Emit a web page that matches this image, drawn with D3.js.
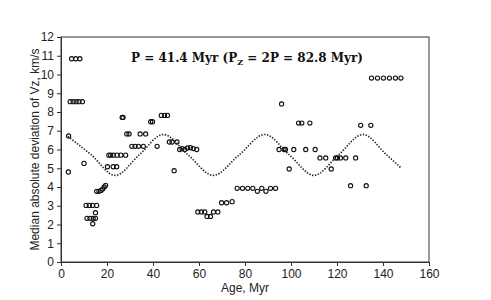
<!DOCTYPE html>
<html><head><meta charset="utf-8">
<script src="https://cdn.jsdelivr.net/npm/d3@7"></script>
<style>body{margin:0;background:#fff}svg{display:block}</style>
</head><body>
<svg id="c" width="491" height="300"></svg>
<script>
// Observed points (age in Myr, median absolute deviation of Vz in km/s)
const ages = [3.2,3.3,4.6,6.4,8.2,4.0,5.3,6.6,7.8,9.3,10.0,
  10.9,12.3,13.7,15.5, 11.3,12.6,14.0,15.0, 13.8, 15.0,
  15.5,16.5,17.4,18.1,18.8,19.4,
  20.8,21.6,22.8,24.4,26.0,28.1, 20.2,22.7,24.2,
  30.8,32.2,33.7,35.8, 28.6,29.6,34.4,36.8, 26.6,27.0, 39.0,39.8, 43.6,45.0,46.3,
  41.8, 47.1,48.3,50.4, 49.2,
  51.6,52.6,53.8,55.0,56.3,57.5,59.0,
  59.5,61.0,62.5,63.5,65.0,66.3,68.2,
  69.8,72.0,74.4,
  76.6,78.9,81.2,83.4,85.4,87.3,89.1,91.1,93.3,
  95.9, 103.3,104.7,108.2,
  94.8,97.0,97.6,101.2,106.4,110.5,
  99.2,117.5,
  112.6,115.1,119.4,120.2,121.5,123.8,128.1,
  125.9,132.7, 130.3,134.7,
  135.0,137.6,140.2,142.8,145.4,147.8];
const mads = [4.8,6.72,10.84,10.84,10.84,8.55,8.55,8.55,8.55,8.55,5.26,
  3.02,3.02,3.02,3.02, 2.33,2.33,2.33,2.33, 2.04, 2.63,
  3.77,3.77,3.82,3.89,4.0,4.09,
  5.7,5.7,5.7,5.7,5.7,5.7, 5.08,5.08,5.08,
  6.17,6.17,6.17,6.17, 6.83,6.83,6.83,6.83, 7.71,7.71, 7.48,7.48, 7.82,7.82,7.82,
  6.17, 6.4,6.4,6.4, 4.87,
  6.0,6.05,6.0,6.08,6.1,6.05,6.0,
  2.67,2.67,2.67,2.43,2.43,2.67,2.67,
  3.16,3.16,3.22,
  3.93,3.93,3.93,3.93,3.77,3.93,3.77,3.93,3.93,
  8.43, 7.41,7.41,7.41,
  6.0,6.0,6.0,6.0,6.0,6.0,
  4.96,4.96,
  5.55,5.55,5.55,5.55,5.55,5.55,5.55,
  4.07,4.07, 7.29,7.29,
  9.81,9.81,9.81,9.81,9.81,9.81];
// Dotted model curve: turning points and crossings
const curveAges = [3,13.2,23.5,34,44.5,55.3,66.2,77.4,88.6,99.3,110,120.6,131.3,141.6,148];
const curveVals = [6.7,5.71,4.62,5.71,6.8,5.71,4.62,5.71,6.8,5.71,4.62,5.71,6.8,5.71,5.0];
const xTicks = [0,20,40,60,80,100,120,140,160];
const yTicks = [0,1,2,3,4,5,6,7,8,9,10,11,12];

const svg = d3.select("#c");
const m = {l:61, r:62, t:37, b:38};
const W = 491, H = 300;
const x = d3.scaleLinear().domain([0,160]).range([m.l, W - m.r]);
const y = d3.scaleLinear().domain([0,12]).range([H - m.b, m.t]);

svg.append("rect").attr("x", m.l).attr("y", m.t)
  .attr("width", W - m.r - m.l).attr("height", H - m.b - m.t)
  .attr("fill", "none").attr("stroke", "#333").attr("stroke-width", 1);

const fs = "12px 'Liberation Sans', Arial, sans-serif";
const xa = svg.append("g").attr("transform", `translate(0,${H - m.b})`)
  .call(d3.axisBottom(x).tickValues(xTicks).tickSize(4).tickPadding(3).tickFormat(d3.format("d")));
const ya = svg.append("g").attr("transform", `translate(${m.l},0)`)
  .call(d3.axisLeft(y).tickValues(yTicks).tickSize(4).tickPadding(3).tickFormat(d3.format("d")));
[xa, ya].forEach(a => {
  a.select(".domain").attr("stroke", "#333");
  a.selectAll(".tick line").attr("stroke", "#333");
  a.selectAll("text").style("font", fs).attr("fill", "#222");
});

// dotted curve
const line = d3.line().x((d,i)=>x(curveAges[i])).y((d,i)=>y(curveVals[i])).curve(d3.curveMonotoneX);
svg.append("path").attr("d", line(curveAges)).attr("fill", "none")
  .attr("stroke", "#222").attr("stroke-width", 1.6).attr("stroke-dasharray", "1.4,1.5");

// circles
svg.append("g").selectAll("circle").data(ages).join("circle")
  .attr("cx", (d)=>x(d)).attr("cy", (d,i)=>y(mads[i])).attr("r", 2.1)
  .attr("fill", "none").attr("stroke", "#111").attr("stroke-width", 1.1);

// title
const t = svg.append("text").attr("x", 247).attr("y", 62).attr("text-anchor", "middle")
  .style("font", "bold 12px 'DejaVu Serif', serif").attr("fill", "#111");
t.append("tspan").text("P = 41.4 Myr (P");
t.append("tspan").attr("dy", 3).style("font-size", "8px").text("Z");
t.append("tspan").attr("dy", -3).text(" = 2P = 82.8 Myr)");

svg.append("text").attr("x", (m.l + W - m.r)/2).attr("y", 292).attr("text-anchor", "middle")
  .style("font", fs).attr("fill", "#222").text("Age, Myr");
svg.append("text").attr("transform", `translate(39,${(m.t + H - m.b)/2}) rotate(-90)`)
  .attr("text-anchor", "middle").style("font", fs).attr("fill", "#222")
  .text("Median absolute deviation of Vz, km/s");
</script>
</body></html>
